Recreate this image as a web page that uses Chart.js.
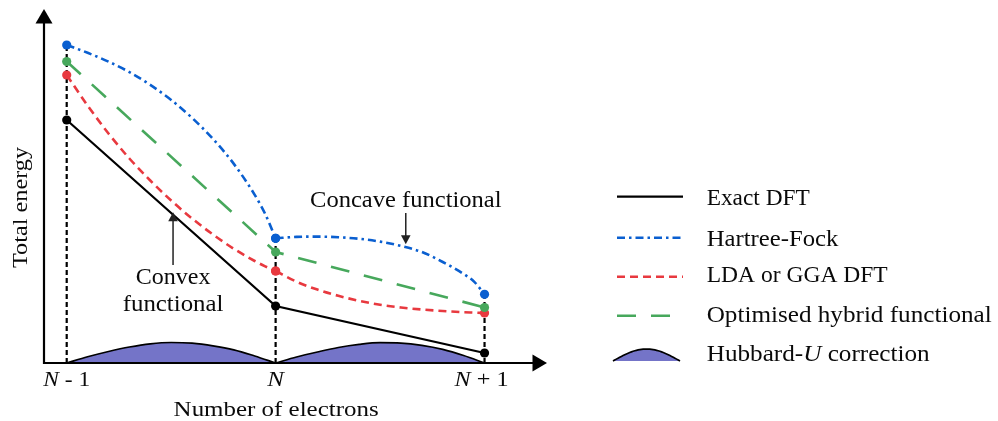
<!DOCTYPE html>
<html>
<head>
<meta charset="utf-8">
<script src="https://cdn.jsdelivr.net/npm/chart.js@4.4.1/dist/chart.umd.min.js"></script>
<style>
  html, body { margin: 0; padding: 0; background: #ffffff; }
  #wrap { width: 998px; height: 421px; }
</style>
</head>
<body>
<div id="wrap"><canvas id="chart" width="998" height="421"></canvas></div>
<script>
// Electron count on the x axis: 0 = N-1, 1 = N, 2 = N+1
const tickPositions = [0, 1, 2];
const tickLabels = [[['N', true], [' - 1', false]], [['N', true]], [['N', true], [' + 1', false]]];

// Sampled abscissae for the curved functionals
const xLeft  = [0, 0.1, 0.2, 0.3, 0.4, 0.5, 0.6, 0.7, 0.8, 0.9, 0.95, 1];
const xRight = [1, 1.1, 1.2, 1.3, 1.4, 1.5, 1.6, 1.7, 1.8, 1.9, 1.95, 2];

// Hartree-Fock (concave)
const hfLeft  = [31.8, 31.02, 30.14, 29.09, 27.81, 26.31, 24.51, 22.41, 19.91, 16.81, 14.91, 12.47];
const hfRight = [12.47, 12.61, 12.64, 12.58, 12.42, 12.14, 11.71, 11.1, 10.1, 8.9, 8.14, 6.87];

// LDA / GGA (convex)
const ldaLeft  = [28.8, 25.75, 22.95, 20.45, 18.25, 16.25, 14.45, 12.85, 11.42, 10.2, 9.67, 9.2];
const ldaRight = [9.2, 8.13, 7.34, 6.72, 6.22, 5.82, 5.55, 5.35, 5.2, 5.08, 5.04, 5.0];

// Piecewise-linear functionals
const linearX = [0, 1, 2];
const exactDFT = [24.3, 5.7, 1.0];
const hybrid   = [30.15, 11.1, 5.55];

// Hubbard-U correction humps
const hubLeftX  = [0, 0.1, 0.2, 0.3, 0.4, 0.5, 0.6, 0.7, 0.8, 0.9, 1];
const hubLeft   = [0, 0.62, 1.15, 1.6, 1.92, 2.05, 1.98, 1.72, 1.32, 0.7, 0];
const hubRightX = [1, 1.1, 1.2, 1.3, 1.4, 1.5, 1.6, 1.7, 1.8, 1.9, 2];
const hubRight  = [0, 0.6, 1.1, 1.55, 1.86, 2.03, 1.99, 1.76, 1.36, 0.75, 0];

const legendLabels = ['Exact DFT', 'Hartree-Fock', 'LDA or GGA DFT', 'Optimised hybrid functional'];

const C_BLACK = '#000000';
const C_BLUE  = '#0a5fd0';
const C_RED   = '#e8393f';
const C_GREEN = '#47a85c';
const C_HUB   = '#7474c8';
const C_TEXT  = '#0a0a0a';

const DASH_HF = [8, 4, 2.5, 4];
const DASH_LDA = [8, 5];
const DASH_HYB = [19, 15];
const W_COLOR = 2.6;
const W_BLACK = 2.2;

const pts = (xs, ys) => xs.map((x, i) => ({ x: x, y: ys[i] }));
const endDot = ctx => (ctx.raw && Number.isInteger(ctx.raw.x)) ? 4.6 : 0;

function series(xs, ys, color, dash, width, curved) {
  return {
    data: pts(xs, ys),
    borderColor: color,
    backgroundColor: color,
    borderWidth: width,
    borderDash: dash,
    pointRadius: endDot,
    pointBackgroundColor: color,
    pointBorderWidth: 0,
    cubicInterpolationMode: curved ? 'monotone' : 'default',
    tension: 0,
    fill: false,
    clip: false
  };
}
function hump(xs, ys) {
  return {
    data: pts(xs, ys),
    borderColor: C_BLACK,
    backgroundColor: C_HUB,
    borderWidth: 1.7,
    pointRadius: 0,
    cubicInterpolationMode: 'monotone',
    fill: 'origin',
    clip: false
  };
}

const SERIF = '"Liberation Serif", "DejaVu Serif", serif';
function fontOf(italic, size) { return (italic ? 'italic ' : '') + size + 'px ' + SERIF; }

// Draws text runs (roman / italic) fitted to a given width
function drawRuns(ctx, runs, x, y, width, align, size) {
  let natural = 0;
  const ws = runs.map(([t, it]) => { ctx.font = fontOf(it, size); const w = ctx.measureText(t).width; natural += w; return w; });
  const sx = width ? width / natural : 1;
  const total = natural * sx;
  const start = align === 'center' ? x - total / 2 : (align === 'right' ? x - total : x);
  ctx.save();
  ctx.translate(start, y);
  ctx.scale(sx, 1);
  ctx.fillStyle = C_TEXT;
  ctx.textAlign = 'left';
  ctx.textBaseline = 'alphabetic';
  let cx = 0;
  runs.forEach(([t, it], i) => {
    ctx.font = fontOf(it, size);
    ctx.fillText(t, cx, 0);
    cx += ws[i];
  });
  ctx.restore();
}

function arrowHead(ctx, tipX, tipY, dirX, dirY, len, half) {
  const bx = tipX - dirX * len, by = tipY - dirY * len;
  const px = -dirY, py = dirX;
  ctx.beginPath();
  ctx.moveTo(tipX, tipY);
  ctx.lineTo(bx + px * half, by + py * half);
  ctx.lineTo(bx - px * half, by - py * half);
  ctx.closePath();
  ctx.fill();
}

function bellPath(ctx, x0, x1, base, h) {
  ctx.moveTo(x0, base);
  for (let i = 1; i <= 40; i++) {
    const t = i / 40;
    ctx.lineTo(x0 + (x1 - x0) * t, base - h * Math.sin(Math.PI * t));
  }
}

const scaffold = {
  id: 'scaffold',
  beforeDatasetsDraw(chart) {
    const { ctx, scales: { x, y } } = chart;
    // Dashed guides from the axis up to the highest functional at each integer count
    const tops = [hfLeft[0], hfRight[0], hfRight[hfRight.length - 1]];
    ctx.save();
    ctx.strokeStyle = C_BLACK;
    ctx.lineWidth = 2.2;
    ctx.setLineDash([5, 3]);
    tickPositions.forEach((t, i) => {
      const px = x.getPixelForValue(t);
      ctx.beginPath();
      ctx.moveTo(px, y.getPixelForValue(0));
      ctx.lineTo(px, y.getPixelForValue(tops[i]));
      ctx.stroke();
    });
    ctx.restore();
  },
  afterDatasetsDraw(chart) {
    const { ctx, chartArea: a, scales: { x, y } } = chart;
    const x0 = a.left, y0 = y.getPixelForValue(0);
    ctx.save();
    // Axes with arrow heads
    ctx.strokeStyle = C_BLACK;
    ctx.fillStyle = C_BLACK;
    ctx.lineWidth = 2.2;
    ctx.setLineDash([]);
    ctx.beginPath();
    ctx.moveTo(x0, y0 + 1);
    ctx.lineTo(x0, a.top + 12);
    ctx.moveTo(x0 - 1, y0);
    ctx.lineTo(a.right - 12, y0);
    ctx.stroke();
    arrowHead(ctx, x0, a.top, 0, -1, 14.5, 8.5);
    arrowHead(ctx, a.right, y0, 1, 0, 14.5, 8.5);

    // Tick labels
    const tickWidths = [47, 16.7, 54];
    const tickShift = [0, 0, -3];
    tickPositions.forEach((t, i) => {
      drawRuns(ctx, tickLabels[i], x.getPixelForValue(t) + tickShift[i], 386, tickWidths[i], 'center', 22);
    });

    // Axis titles
    drawRuns(ctx, [['Number of electrons', false]], (x.getPixelForValue(0) + x.getPixelForValue(2)) / 2 + 0.5, 416, 205, 'center', 22);
    ctx.save();
    ctx.translate(27, 207.5);
    ctx.rotate(-Math.PI / 2);
    drawRuns(ctx, [['Total energy', false]], 0, 0, 121, 'center', 22);
    ctx.restore();

    // Annotations with arrows
    ctx.strokeStyle = '#222222';
    ctx.fillStyle = '#222222';
    ctx.lineWidth = 1.5;
    const ccX = x.getPixelForValue(1.623);
    const ccTip = y.getPixelForValue(11.87);
    ctx.beginPath(); ctx.moveTo(ccX, y.getPixelForValue(15.0)); ctx.lineTo(ccX, ccTip - 6); ctx.stroke();
    arrowHead(ctx, ccX, ccTip, 0, 1, 9, 4.8);
    drawRuns(ctx, [['Concave functional', false]], ccX, 206.5, 191.5, 'center', 23);

    const cvX = x.getPixelForValue(0.509);
    const cvTip = y.getPixelForValue(15.07);
    ctx.strokeStyle = '#222222';
    ctx.lineWidth = 1.5;
    ctx.beginPath(); ctx.moveTo(cvX, y.getPixelForValue(9.8)); ctx.lineTo(cvX, cvTip + 6); ctx.stroke();
    arrowHead(ctx, cvX, cvTip, 0, -1, 9, 4.8);
    drawRuns(ctx, [['Convex', false]], cvX, 284, 74.7, 'center', 23);
    drawRuns(ctx, [['functional', false]], cvX, 311, 100.7, 'center', 23);

    // Legend
    const lx0 = 617, lx1 = 683, tx = 706.7;
    const rows = [
      { y: 196.7, base: 205, color: C_BLACK, dash: [], w: W_BLACK, label: [[legendLabels[0], false]], tw: 103 },
      { y: 237.7, base: 246, color: C_BLUE, dash: DASH_HF, w: W_COLOR, label: [[legendLabels[1], false]], tw: 131.7 },
      { y: 276.7, base: 282.3, color: C_RED, dash: DASH_LDA, w: W_COLOR, label: [[legendLabels[2], false]], tw: 181 },
      { y: 315.7, base: 321.7, color: C_GREEN, dash: DASH_HYB, w: W_COLOR, label: [[legendLabels[3], false]], tw: 285 }
    ];
    rows.forEach(r => {
      ctx.strokeStyle = r.color;
      ctx.lineWidth = r.w;
      ctx.setLineDash(r.dash);
      ctx.beginPath(); ctx.moveTo(lx0, r.y); ctx.lineTo(lx1, r.y); ctx.stroke();
      ctx.setLineDash([]);
      drawRuns(ctx, r.label, tx, r.base, r.tw, 'left', 23);
    });
    // Hubbard-U glyph
    ctx.beginPath();
    bellPath(ctx, 613, 680, 361, 12);
    ctx.closePath();
    ctx.fillStyle = C_HUB;
    ctx.fill();
    ctx.beginPath();
    bellPath(ctx, 613, 680, 361, 12);
    ctx.strokeStyle = C_BLACK;
    ctx.lineWidth = 1.7;
    ctx.stroke();
    drawRuns(ctx, [['Hubbard-', false], ['U', true], [' correction', false]], tx, 360.7, 223, 'left', 23);
    ctx.restore();
  }
};

new Chart(document.getElementById('chart'), {
  type: 'line',
  data: {
    datasets: [
      series(linearX, exactDFT, C_BLACK, [], W_BLACK, false),
      series(xLeft, hfLeft, C_BLUE, DASH_HF, W_COLOR, true),
      series(xRight, hfRight, C_BLUE, DASH_HF, W_COLOR, true),
      series(linearX, hybrid, C_GREEN, DASH_HYB, W_COLOR, false),
      series(xLeft, ldaLeft, C_RED, DASH_LDA, W_COLOR, true),
      series(xRight, ldaRight, C_RED, DASH_LDA, W_COLOR, true),
      hump(hubLeftX, hubLeft),
      hump(hubRightX, hubRight)
    ]
  },
  options: {
    responsive: false,
    devicePixelRatio: 1,
    animation: false,
    events: [],
    layout: { padding: { left: 44, right: 451, top: 9, bottom: 58 } },
    plugins: { legend: { display: false }, tooltip: { enabled: false } },
    scales: {
      x: { type: 'linear', min: -0.1087, max: 2.299, display: false },
      y: { type: 'linear', min: 0, max: 35.4, display: false }
    }
  },
  plugins: [scaffold]
});
</script>
</body>
</html>
